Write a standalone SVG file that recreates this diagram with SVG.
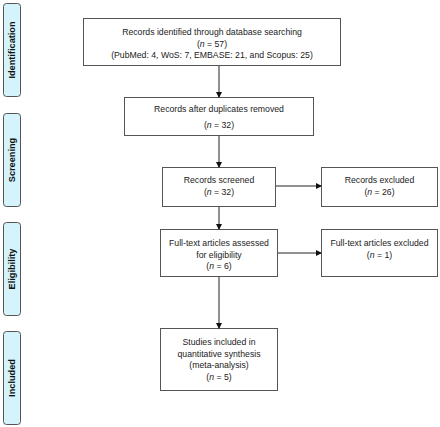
<svg xmlns="http://www.w3.org/2000/svg" width="440" height="427" viewBox="0 0 440 427">
<defs>
<marker id="ah" markerWidth="6" markerHeight="6" refX="5" refY="3" orient="auto" markerUnits="userSpaceOnUse">
<path d="M0,0 L6,3 L0,6 Z" fill="#111"/>
</marker>
</defs>
<style>
.box{fill:#fff;stroke:#555;stroke-width:1}
.side{fill:#d4f3fb;stroke:#555;stroke-width:1}
.t{font-family:"Liberation Sans",Arial,sans-serif;font-size:8.7px;fill:#222;text-anchor:middle}
.s{font-family:"Liberation Sans",Arial,sans-serif;font-size:9.2px;font-weight:bold;fill:#111;text-anchor:middle}
.c{stroke:#222;stroke-width:1;fill:none;marker-end:url(#ah)}
</style>
<rect width="440" height="427" fill="#fff"/>
<g id="phase-identification"><rect class="side" x="3.5" y="3.5" width="17" height="93" rx="3"/><text class="s" transform="translate(15.3,50) rotate(-90)">Identification</text></g>
<g id="phase-screening"><rect class="side" x="3.5" y="113.5" width="17" height="93" rx="3"/><text class="s" transform="translate(15.3,160) rotate(-90)">Screening</text></g>
<g id="phase-eligibility"><rect class="side" x="3.5" y="222.5" width="17" height="93" rx="3"/><text class="s" transform="translate(15.3,269) rotate(-90)">Eligibility</text></g>
<g id="phase-included"><rect class="side" x="3.5" y="331.5" width="17" height="93" rx="3"/><text class="s" transform="translate(15.3,378) rotate(-90)">Included</text></g>

<g id="n-identified"><rect class="box" x="83.5" y="18.5" width="257" height="47"/>
<text class="t" x="212" y="35">Records identified through database searching</text>
<text class="t" x="212" y="46.5">(<tspan font-style="italic">n</tspan> = 57)</text>
<text class="t" x="212" y="58">(PubMed: 4, WoS: 7, EMBASE: 21, and Scopus: 25)</text></g>

<g id="n-dedup"><rect class="box" x="124.5" y="97.5" width="189" height="38"/>
<text class="t" x="219" y="112">Records after duplicates removed</text>
<text class="t" x="219" y="128">(<tspan font-style="italic">n</tspan> = 32)</text></g>

<g id="n-screened"><rect class="box" x="162.5" y="167.5" width="113" height="39"/>
<text class="t" x="219" y="183">Records screened</text>
<text class="t" x="219" y="195">(<tspan font-style="italic">n</tspan> = 32)</text></g>

<g id="n-excluded"><rect class="box" x="321.5" y="167.5" width="116" height="39"/>
<text class="t" x="379.5" y="183">Records excluded</text>
<text class="t" x="379.5" y="195">(<tspan font-style="italic">n</tspan> = 26)</text></g>

<g id="n-fulltext"><rect class="box" x="160.5" y="229.5" width="117" height="47"/>
<text class="t" x="219" y="246">Full-text articles assessed</text>
<text class="t" x="219" y="257.5">for eligibility</text>
<text class="t" x="219" y="269">(<tspan font-style="italic">n</tspan> = 6)</text></g>

<g id="n-ftexcluded"><rect class="box" x="321.5" y="229.5" width="116" height="47"/>
<text class="t" x="379.5" y="246">Full-text articles excluded</text>
<text class="t" x="379.5" y="257.5">(<tspan font-style="italic">n</tspan> = 1)</text></g>

<g id="n-included"><rect class="box" x="160.5" y="328.5" width="117" height="62"/>
<text class="t" x="219" y="345">Studies included in</text>
<text class="t" x="219" y="356.5">quantitative synthesis</text>
<text class="t" x="219" y="368">(meta-analysis)</text>
<text class="t" x="219" y="380">(<tspan font-style="italic">n</tspan> = 5)</text></g>

<g id="connectors">
<line class="c" x1="219" y1="66" x2="219" y2="97"/>
<line class="c" x1="219" y1="136" x2="219" y2="167"/>
<line class="c" x1="276" y1="186" x2="321" y2="186"/>
<line class="c" x1="219" y1="207" x2="219" y2="229"/>
<line class="c" x1="278" y1="253" x2="321" y2="253"/>
<line class="c" x1="219" y1="277" x2="219" y2="328"/>
</g>
</svg>
